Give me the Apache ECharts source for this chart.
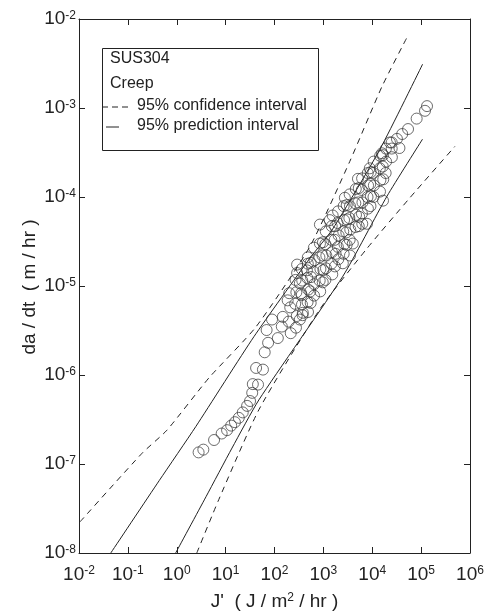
<!DOCTYPE html>
<html>
<head>
<meta charset="utf-8">
<script src="https://cdn.jsdelivr.net/npm/echarts@6/dist/echarts.min.js"></script>
<style>
  html, body { margin: 0; padding: 0; background: #fff; }
  #chart { width: 487px; height: 614px; }
</style>
</head>
<body>
<div id="chart"></div>
<script>
// 数据：J' (J/m^2/hr) 与 da/dt (m/hr)
const creepPoints = [
  [2.8e0, 1.35e-7], [3.5e0, 1.45e-7], [5.8e0, 1.86e-7], [8.3e0, 2.2e-7], [1.07e1, 2.4e-7],
  [1.3e1, 2.7e-7], [1.55e1, 2.95e-7], [1.86e1, 3.3e-7], [2.24e1, 3.8e-7], [2.75e1, 4.5e-7],
  [3.16e1, 5.1e-7], [3.5e1, 6.3e-7], [3.6e1, 7.9e-7], [4.6e1, 7.8e-7], [4.2e1, 1.2e-6],
  [5.8e1, 1.15e-6], [6.3e1, 1.8e-6], [7.4e1, 2.3e-6], [6.9e1, 3.2e-6], [8.9e1, 4.2e-6],
  [1.17e2, 2.6e-6], [1.41e2, 3.5e-6], [1.48e2, 4.5e-6], [1.86e2, 6.9e-6], [3.3e2, 4.2e-6],
  [3.8e2, 5.0e-6], [2.9e2, 1.4e-5], [3.3e2, 1.07e-5], [4.6e2, 1.5e-5], [3.6e2, 7.9e-6],
  [2.9e2, 1.74e-5], [4.8e2, 2.1e-5], [8.5e2, 4.9e-5], [1.35e3, 5.5e-5], [1.55e3, 6.2e-5],
  [2.75e3, 9.8e-5], [5.1e3, 1.6e-4], [8.9e3, 2.1e-4], [1.58e4, 3.1e-4], [2.3e4, 4.1e-4],
  [3.2e4, 4.5e-4], [4.1e4, 5.1e-4], [5.4e4, 5.8e-4], [8.1e4, 7.6e-4], [1.2e5, 9.3e-4],
  [1.32e5, 1.05e-3], [1.66e4, 9.1e-5], [7.8e3, 5.0e-5], [4.0e3, 3.0e-5], [2.5e3, 1.8e-5],
  [3.5e3, 2.2e-5], [2.5e4, 3.5e-4], [3.6e4, 3.55e-4],
  // 密集带
  [2.0e2, 8.3e-6], [2.1e2, 5.75e-6], [1.95e2, 3.98e-6], [2.15e2, 2.95e-6],
  [2.7e2, 1.17e-5], [2.8e2, 8.5e-6], [2.65e2, 6.3e-6], [2.85e2, 4.6e-6], [2.75e2, 3.4e-6],
  [3.6e2, 1.55e-5], [3.7e2, 1.15e-5], [3.5e2, 8.3e-6], [3.65e2, 6.2e-6], [3.75e2, 4.7e-6],
  [4.8e2, 1.78e-5], [4.7e2, 1.23e-5], [4.9e2, 9.1e-6], [4.75e2, 6.6e-6], [4.85e2, 5.1e-6],
  [6.4e2, 2.7e-5], [6.6e2, 1.95e-5], [6.3e2, 1.45e-5], [6.5e2, 1.05e-5], [6.45e2, 7.8e-6],
  [8.5e2, 3.0e-5], [8.3e2, 2.1e-5], [8.7e2, 1.55e-5], [8.4e2, 1.15e-5], [8.6e2, 8.7e-6],
  [1.12e3, 4.1e-5], [1.1e3, 2.95e-5], [1.15e3, 2.2e-5], [1.13e3, 1.58e-5], [1.1e3, 1.17e-5],
  [1.48e3, 4.7e-5], [1.45e3, 3.3e-5], [1.5e3, 2.4e-5], [1.46e3, 1.78e-5], [1.52e3, 1.35e-5],
  [2.0e3, 6.9e-5], [1.95e3, 5.1e-5], [2.05e3, 3.7e-5], [1.98e3, 2.75e-5], [2.02e3, 2.0e-5],
  [2.6e3, 7.9e-5], [2.65e3, 5.5e-5], [2.55e3, 4.1e-5], [2.7e3, 2.95e-5], [2.6e3, 2.3e-5],
  [3.45e3, 1.07e-4], [3.5e3, 7.9e-5], [3.4e3, 5.8e-5], [3.55e3, 4.3e-5], [3.45e3, 3.3e-5],
  [4.6e3, 1.23e-4], [4.5e3, 8.5e-5], [4.65e3, 6.3e-5], [4.55e3, 4.6e-5],
  [6.2e3, 1.62e-4], [6.1e3, 1.2e-4], [6.3e3, 8.7e-5], [6.15e3, 6.5e-5], [6.25e3, 5.0e-5],
  [8.1e3, 1.86e-4], [8.2e3, 1.35e-4], [8.0e3, 1.0e-4], [8.15e3, 7.4e-5],
  [1.07e4, 2.5e-4], [1.05e4, 1.86e-4], [1.08e4, 1.35e-4], [1.06e4, 1.0e-4],
  [1.45e4, 2.9e-4], [1.43e4, 2.1e-4], [1.47e4, 1.55e-4], [1.44e4, 1.15e-4],
  [1.9e4, 3.5e-4], [1.92e4, 2.5e-4], [1.88e4, 1.86e-4],
  [2.5e4, 4.1e-4], [2.52e4, 2.8e-4],
  [5.5e2, 1.82e-5], [5.6e2, 1.26e-5], [5.4e2, 8.7e-6], [5.5e2, 6.45e-6],
  [9.8e2, 3.1e-5], [9.6e2, 2.2e-5], [1.0e3, 1.51e-5], [9.7e2, 1.1e-5],
  [1.74e3, 4.7e-5], [1.7e3, 3.3e-5], [1.78e3, 2.3e-5], [1.72e3, 1.66e-5],
  [3.0e3, 8.1e-5], [3.05e3, 5.6e-5], [2.95e3, 4.0e-5], [3.0e3, 2.9e-5],
  [5.3e3, 1.26e-4], [5.2e3, 8.7e-5], [5.4e3, 6.0e-5], [5.3e3, 4.7e-5],
  [9.3e3, 1.9e-4], [9.1e3, 1.4e-4], [9.4e3, 1.02e-4], [9.2e3, 7.9e-5],
  [1.66e4, 2.95e-4], [1.64e4, 2.2e-4], [1.68e4, 1.58e-4]
];

// 95% 置信区间（虚线）
const confUpper = [
  [1.05e-2, 2.24e-8], [1.95e-1, 1.32e-7], [6.3e-1, 2.4e-7], [4.57e0, 9.3e-7], [4.17e1, 3.47e-6],
  [5.25e2, 2.75e-5], [3.47e3, 2.51e-4], [1.58e4, 1.74e-3], [5.13e4, 6.2e-3]
];
const confLower = [
  [2.57e0, 1e-8], [7.24e0, 3.98e-8], [4.79e1, 4.07e-7], [8.5e2, 5.5e-6],
  [7.76e3, 2.63e-5], [5.89e4, 9.8e-5], [4.9e5, 3.7e-4]
];
// 95% 预测区间（实线）
const predUpper = [
  [4.47e-2, 1e-8], [4.37e-1, 6.5e-8], [2.45e0, 2.63e-7], [3.8e1, 2.7e-6], [5.25e2, 2.04e-5],
  [1.55e3, 4.37e-5], [1.45e4, 3.47e-4], [1.07e5, 3.1e-3]
];
const predLower = [
  [9.5e-1, 1e-8], [3.98e0, 4.3e-8], [1.35e1, 1.51e-7], [4.79e1, 5.25e-7],
  [2.51e3, 1.29e-5], [2.0e4, 1.02e-4], [1.07e5, 4.47e-4]
];

const legendLabels = ['95% confidence interval', '95% prediction interval'];
const yAxisTitle = 'da / dt  ( m / hr )';

const FONT = 'Liberation Sans, Arial, Helvetica, sans-serif';
const INK = '#222';

const supRich = {
  b: { fontSize: 19, lineHeight: 19, verticalAlign: 'bottom', color: INK, fontFamily: FONT },
  s: { fontSize: 12, lineHeight: 12, verticalAlign: 'top', color: INK, fontFamily: FONT }
};
const powLabel = v => `{b|10}{s|${Math.round(Math.log10(v))}}`;

const chart = echarts.init(document.getElementById('chart'), null, { renderer: 'canvas' });

const lineStyleDashed = { color: INK, width: 1, type: [6, 5] };
const lineStyleSolid  = { color: INK, width: 1, type: 'solid' };

function axisCommon(extra) {
  return Object.assign({
    type: 'log',
    logBase: 10,
    axisLine: { show: true, lineStyle: { color: INK, width: 1 } },
    axisTick: { show: true, inside: true, length: 6, lineStyle: { color: INK } },
    splitLine: { show: false },
    minorTick: { show: false }
  }, extra);
}

function bandLine(name, data, style) {
  return {
    name, type: 'line', data, symbol: 'none',
    smooth: 0.2,
    lineStyle: style, z: 3, silent: true
  };
}

chart.setOption({
  backgroundColor: '#fff',
  animation: false,
  textStyle: { fontFamily: FONT },
  grid: { left: 79, right: 17, top: 19, bottom: 61, containLabel: false, outerBoundsMode: 'none' },
  xAxis: [
    axisCommon({
      min: 1e-2, max: 1e6, position: 'bottom',
      axisLabel: { margin: 12, formatter: powLabel, rich: supRich },
      name: "J'  ( J / m{s|2} / hr )",
      nameLocation: 'middle', nameGap: 39,
      nameTextStyle: { fontSize: 19, color: INK, fontFamily: FONT, rich: supRich }
    }),
    axisCommon({ min: 1e-2, max: 1e6, position: 'top', axisLabel: { show: false } })
  ],
  yAxis: [
    axisCommon({
      min: 1e-8, max: 1e-2, position: 'left',
      axisLabel: { margin: 3, formatter: powLabel, rich: supRich }
    }),
    axisCommon({ min: 1e-8, max: 1e-2, position: 'right', axisLabel: { show: false } })
  ],
  // 图例框与纵轴标题（自绘）
  graphic: [
    { type: 'text', x: 30, y: 287, rotation: Math.PI / 2, z: 2,
      style: { text: yAxisTitle, fontSize: 19, fill: INK, fontFamily: FONT,
               align: 'center', verticalAlign: 'middle' } },
    { type: 'rect', left: 102, top: 48, z: 1,
      shape: { width: 216, height: 102 },
      style: { fill: '#fff', stroke: INK, lineWidth: 1 } },
    { type: 'text', left: 110, top: 51, z: 2,
      style: { text: 'SUS304', fontSize: 16, fill: INK, fontFamily: FONT } },
    { type: 'text', left: 110, top: 76, z: 2,
      style: { text: 'Creep', fontSize: 16, fill: INK, fontFamily: FONT } },
    { type: 'line', z: 2,
      shape: { x1: 102, y1: 107, x2: 132, y2: 107 },
      style: { stroke: INK, lineWidth: 1, lineDash: [6, 4] } },
    { type: 'text', left: 137, top: 98, z: 2,
      style: { text: legendLabels[0], fontSize: 16, fill: INK, fontFamily: FONT } },
    { type: 'line', z: 2,
      shape: { x1: 106, y1: 127, x2: 119, y2: 127 },
      style: { stroke: INK, lineWidth: 1 } },
    { type: 'text', left: 137, top: 118, z: 2,
      style: { text: legendLabels[1], fontSize: 16, fill: INK, fontFamily: FONT } }
  ],
  series: [
    bandLine(legendLabels[0], confUpper, lineStyleDashed),
    bandLine(legendLabels[0], confLower, lineStyleDashed),
    bandLine(legendLabels[1], predUpper, lineStyleSolid),
    bandLine(legendLabels[1], predLower, lineStyleSolid),
    { name: 'Creep', type: 'scatter', data: creepPoints, symbol: 'circle', symbolSize: 11,
      itemStyle: { color: 'rgba(255,255,255,0)', borderColor: '#333', borderWidth: 0.9 }, z: 4 }
  ]
});
</script>
</body>
</html>
